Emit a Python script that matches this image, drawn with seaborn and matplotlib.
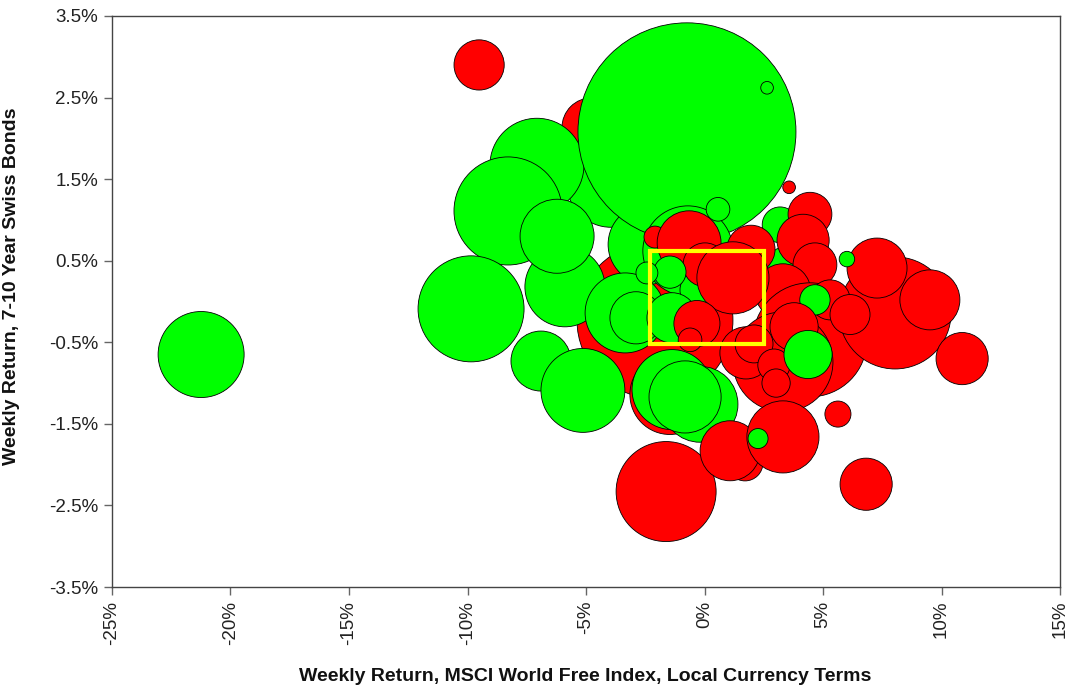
import matplotlib
matplotlib.use("Agg")
import matplotlib.pyplot as plt
import matplotlib.patches as mpatches
import seaborn as sns
import pandas as pd
import numpy as np

# Weekly returns (%) : MSCI World Free (x) vs 7-10Y Swiss Bonds (y)
x_ret = [-4.75, -2.09, -1.46, -3.95, -7.07, -8.29, -5.89, -2.38, -6.22, -9.85,
         -6.90, -5.13, -3.35, -2.89, -21.24, -9.51, -0.74, -0.70, 2.64, 0.57,
         -2.09, -0.65, 3.40, 3.19, 3.57, 4.45, 4.16, 4.66, -0.19, 0.02,
         1.96, 3.31, 4.45, 8.04, 9.51, 7.28, 6.01, 5.30, 6.14, 4.66,
         3.31, 1.20, -1.37, -0.32, -0.61, 3.78, 1.75, 2.09, 2.93, 3.02, 4.37,
         -1.46, -2.43, -1.62, -0.19, -1.37, -0.82, 1.71, 1.08, 3.31, 2.26,
         5.63, 6.82, 10.87]
y_ret = [2.13, -0.23, -1.14, 1.45, 1.67, 1.11, 0.18, 0.70, 0.80, -0.09,
         -0.73, -1.09, -0.14, -0.20, -0.65, 2.90, 2.08, 0.62, 2.62, 1.13,
         0.79, 0.72, 0.45, 0.94, 1.40, 1.07, 0.75, 0.45, 0.14, 0.45,
         0.64, 0.12, -0.47, -0.14, 0.02, 0.41, 0.52, 0.02, -0.16, 0.02,
         -0.74, 0.29, -0.20, -0.27, -0.47, -0.31, -0.63, -0.52, -0.78, -1.00, -0.65,
         0.36, 0.35, -2.33, -1.26, -1.08, -1.17, -1.98, -1.83, -1.66, -1.68,
         -1.38, -2.24, -0.70]
volume = [9.0, 60.8, 16.0, 19.4, 22.1, 29.2, 16.0, 16.0, 13.7, 28.1,
          9.0, 17.6, 16.0, 6.8, 18.5, 6.3, 118.8, 20.3, 0.4, 1.4,
          1.2, 10.2, 3.2, 3.2, 0.4, 4.8, 6.8, 4.8, 4.0, 4.8,
          5.8, 7.8, 32.5, 31.4, 9.0, 9.0, 0.6, 4.0, 4.0, 2.3,
          25.0, 13.0, 6.3, 5.3, 1.4, 5.8, 6.8, 3.6, 2.6, 2.0, 5.8,
          2.6, 1.2, 25.0, 14.4, 16.0, 13.0, 3.2, 9.0, 13.0, 1.0,
          1.7, 6.8, 6.8]
direction = ["down", "down", "down", "up", "up", "up", "up", "up", "up", "up",
             "up", "up", "up", "up", "up", "down", "up", "up", "up", "up",
             "down", "down", "up", "up", "down", "down", "down", "down", "up", "down",
             "down", "down", "down", "down", "down", "down", "up", "down", "down", "up",
             "down", "down", "up", "down", "down", "down", "down", "down", "down", "down", "up",
             "up", "up", "down", "up", "up", "up", "down", "down", "down", "up",
             "down", "down", "down"]

# highlighted region (yellow box)
box_x = [-2.3, 2.5]
box_y = [-0.52, 0.62]

x_ticks = [-25, -20, -15, -10, -5, 0, 5, 10, 15]
y_ticks = [-3.5, -2.5, -1.5, -0.5, 0.5, 1.5, 2.5, 3.5]

df = pd.DataFrame({"x": x_ret, "y": y_ret, "vol": volume, "dir": direction})

sns.set_theme(style="white")
plt.rcParams["font.family"] = ["Liberation Sans", "DejaVu Sans"]

fig = plt.figure(figsize=(10.72, 6.85), dpi=100)
ax = fig.add_axes([112 / 1072, 1 - 587 / 685, 948 / 1072, 571 / 685])

vmax = 120.0
smax = 2.0736 * 100 * vmax
sns.scatterplot(data=df, x="x", y="y", hue="dir", size="vol",
                palette={"up": "#00FF00", "down": "#FF0000"},
                sizes=(0, smax), size_norm=(0, vmax),
                edgecolor="black", linewidth=0.6, alpha=1,
                legend=False, ax=ax, zorder=2)

rect = mpatches.Rectangle((box_x[0], box_y[0]), box_x[1] - box_x[0], box_y[1] - box_y[0],
                          fill=False, edgecolor="#FFFF00", linewidth=3, zorder=5)
ax.add_patch(rect)

ax.set_xlim(-25, 15)
ax.set_ylim(-3.5, 3.5)
ax.set_xticks(x_ticks)
ax.set_yticks(y_ticks)
ax.set_xticklabels([f"{t}%" for t in x_ticks], rotation=90, fontsize=13.5, color="#222222")
ax.set_yticklabels([f"{t}%" for t in y_ticks], fontsize=13.5, color="#222222")
ax.tick_params(axis="both", direction="out", length=6, width=1, color="#666666",
               bottom=True, left=True, pad=4)

for s in ax.spines.values():
    s.set_color("#444444")
    s.set_linewidth(1.0)

ax.set_xlabel("Weekly Return, MSCI World Free Index, Local Currency Terms",
              fontsize=14, fontweight="bold", color="#111111")
ax.set_ylabel("Weekly Return, 7-10 Year Swiss Bonds",
              fontsize=14, fontweight="bold", color="#111111")
ax.xaxis.set_label_coords(0.499, -0.142)
ax.yaxis.set_label_coords(-0.097, 0.527)

fig.savefig("out.png", dpi=100)
